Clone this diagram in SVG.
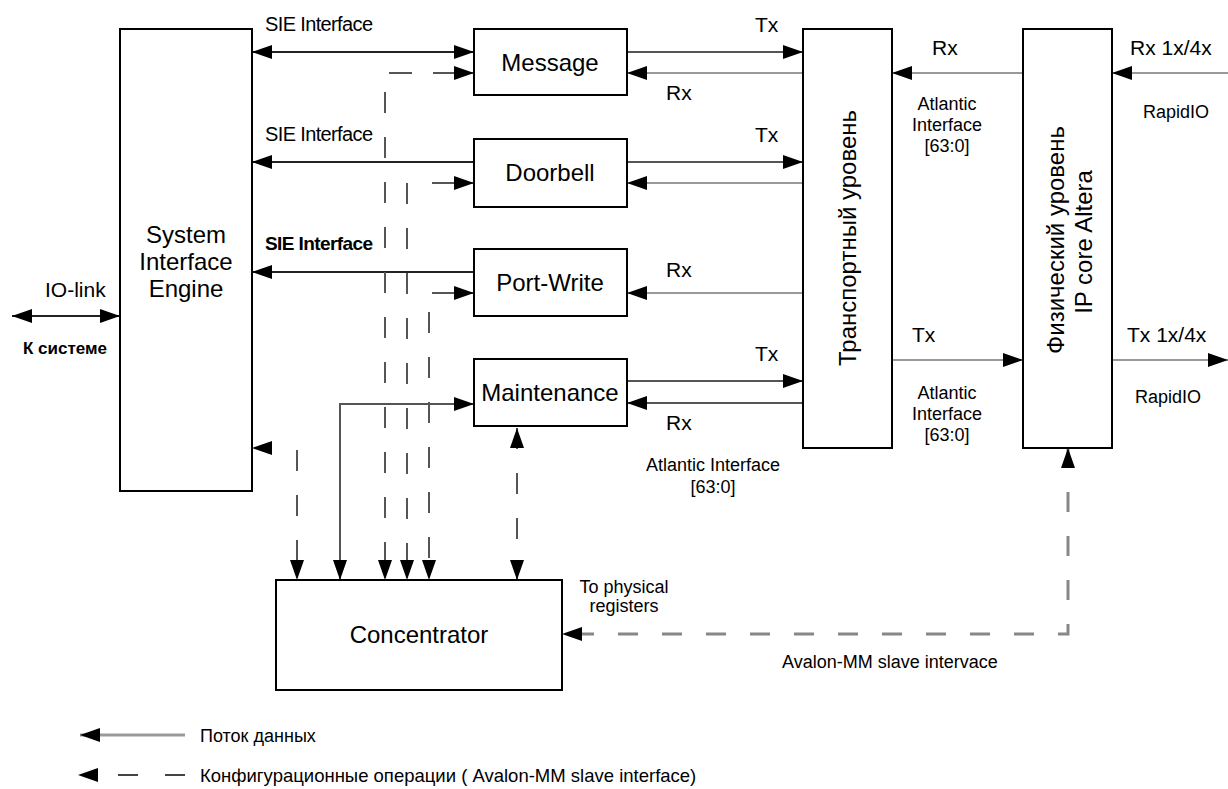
<svg xmlns="http://www.w3.org/2000/svg" width="1228" height="789" viewBox="0 0 1228 789">
<style>
text{font-family:"Liberation Sans",Arial,sans-serif;fill:#000}
.box{fill:#fff;stroke:#000;stroke-width:2}
.big{font-size:24px;text-anchor:middle}
.sm{font-size:18px;text-anchor:middle}
.lbl{font-size:20px}
.blk{fill:none;stroke:#222;stroke-width:2}
.dk{fill:none;stroke:#555;stroke-width:2}
.gr{fill:none;stroke:#999;stroke-width:2}
.dash{fill:none;stroke:#555;stroke-width:2;stroke-dasharray:21 24}
.seg{fill:none;stroke:#555;stroke-width:2}
.av{fill:none;stroke:#888;stroke-width:3;stroke-dasharray:20 24}
</style>
<defs>
<marker id="ah" viewBox="0 0 20 14" refX="20" refY="7" markerWidth="20" markerHeight="14" markerUnits="userSpaceOnUse" orient="auto-start-reverse"><path d="M0,0 L20,7 L0,14 z" fill="#000"/></marker>
</defs>

<g id="connectors">
<!-- IO-link -->
<path class="blk" d="M12,316 H120" marker-start="url(#ah)" marker-end="url(#ah)"/>
<!-- SIE side -->
<path class="blk" d="M252,52 H474" marker-start="url(#ah)" marker-end="url(#ah)"/>
<path class="blk" d="M474,162 H252" marker-end="url(#ah)"/>
<path class="blk" d="M474,272 H252" marker-end="url(#ah)"/>
<polygon points="252,448 272,441 272,455" fill="#000"/>
<!-- dashed config lines -->
<path class="seg" d="M389,73 H412"/>
<path class="seg" d="M433,73 H474" marker-end="url(#ah)"/>
<path class="dash" d="M385,92 V580" marker-end="url(#ah)"/>
<path class="dash" d="M407,183 V580" marker-end="url(#ah)"/>
<path class="seg" d="M432,183 H474" marker-end="url(#ah)"/>
<path class="dash" d="M429,312 V580" marker-end="url(#ah)"/>
<path class="seg" d="M432,293 H474" marker-end="url(#ah)"/>
<path class="dash" d="M297,450 V580" marker-end="url(#ah)"/>
<path class="dash" d="M517,428 V580" marker-start="url(#ah)" marker-end="url(#ah)"/>
<path class="dk" d="M340,580 V404 H474" marker-start="url(#ah)" marker-end="url(#ah)"/>
<!-- Transport side -->
<path class="dk" d="M627,52 H803" marker-end="url(#ah)"/>
<path class="gr" d="M803,73 H627" marker-end="url(#ah)"/>
<path class="dk" d="M627,162 H803" marker-end="url(#ah)"/>
<path class="gr" d="M803,183 H627" marker-end="url(#ah)"/>
<path class="gr" d="M803,293 H627" marker-end="url(#ah)"/>
<path class="dk" d="M627,381 H803" marker-end="url(#ah)"/>
<path class="dk" d="M803,403 H627" marker-end="url(#ah)"/>
<!-- Transport <-> Physical -->
<path class="gr" d="M1023,73 H892" marker-end="url(#ah)"/>
<path class="gr" d="M892,360 H1023" marker-end="url(#ah)"/>
<path class="gr" d="M1228,73 H1112" marker-end="url(#ah)"/>
<path class="gr" d="M1112,360 H1228" marker-end="url(#ah)"/>
<!-- Avalon -->
<path class="av" d="M1068,448 V634 H562" marker-start="url(#ah)" marker-end="url(#ah)"/>
</g>

<g id="sie"><rect class="box" x="120" y="29" width="132" height="462"/>
<text class="big" x="186" y="243">System</text><text class="big" x="186" y="270">Interface</text><text class="big" x="186" y="297">Engine</text></g>
<g id="message"><rect class="box" x="474" y="29" width="153" height="66"/><text class="big" x="550" y="71">Message</text></g>
<g id="doorbell"><rect class="box" x="474" y="139" width="153" height="68"/><text class="big" x="550" y="181">Doorbell</text></g>
<g id="portwrite"><rect class="box" x="474" y="249" width="153" height="67"/><text class="big" x="550" y="291">Port-Write</text></g>
<g id="maintenance"><rect class="box" x="474" y="359" width="153" height="67"/><text class="big" x="550" y="401">Maintenance</text></g>
<g id="transport"><rect class="box" x="803" y="29" width="89" height="419"/>
<text class="big" transform="translate(856,238) rotate(-90)" x="0" y="0">Транспортный уровень</text></g>
<g id="physical"><rect class="box" x="1023" y="29" width="89" height="419"/>
<text class="big" transform="translate(1064,240) rotate(-90)" x="0" y="0">Физический уровень</text>
<text class="big" transform="translate(1092,242) rotate(-90)" x="0" y="0">IP core Altera</text></g>
<g id="concentrator"><rect class="box" x="276" y="580" width="286" height="110"/><text class="big" x="419" y="643">Concentrator</text></g>

<g id="labels">
<text class="lbl" x="265" y="31" font-size="19" textLength="108">SIE Interface</text>
<text class="lbl" x="265" y="141" font-size="19" textLength="108">SIE Interface</text>
<text x="265" y="250" font-size="19" font-weight="bold" textLength="108">SIE Interface</text>
<text x="45" y="297" font-size="21">IO-link</text>
<text x="23" y="354" font-size="17" font-weight="bold">К системе</text>
<text x="755" y="32" font-size="21">Tx</text>
<text x="666" y="100" font-size="21">Rx</text>
<text x="755" y="142" font-size="21">Tx</text>
<text x="666" y="277" font-size="21">Rx</text>
<text x="755" y="361" font-size="21">Tx</text>
<text x="666" y="430" font-size="21">Rx</text>
<text x="932" y="55" font-size="21">Rx</text>
<text x="912" y="342" font-size="21">Tx</text>
<text class="sm" x="947" y="110">Atlantic</text>
<text class="sm" x="947" y="131">Interface</text>
<text class="sm" x="947" y="152">[63:0]</text>
<text class="sm" x="947" y="399">Atlantic</text>
<text class="sm" x="947" y="420">Interface</text>
<text class="sm" x="947" y="441">[63:0]</text>
<text class="sm" x="713" y="471">Atlantic Interface</text>
<text class="sm" x="713" y="493">[63:0]</text>
<text x="1130" y="55" font-size="21">Rx 1x/4x</text>
<text x="1127" y="342" font-size="21">Tx 1x/4x</text>
<text class="sm" x="1176" y="118" font-size="17">RapidIO</text>
<text class="sm" x="1168" y="403" font-size="17">RapidIO</text>
<text class="sm" x="624" y="593">To physical</text>
<text class="sm" x="624" y="612">registers</text>
<text class="sm" x="890" y="668">Avalon-MM slave intervace</text>
</g>

<g id="legend">
<path d="M185,735 H80" fill="none" stroke="#999" stroke-width="3" marker-end="url(#ah)"/>
<text x="200" y="742" font-size="18">Поток данных</text>
<polygon points="78,775 98,768 98,782" fill="#000"/>
<path d="M118,775 H138 M165,775 H185" stroke="#444" stroke-width="2"/>
<text x="200" y="782" font-size="18.5">Конфигурационные операции ( Avalon-MM slave interface)</text>
</g>
</svg>
